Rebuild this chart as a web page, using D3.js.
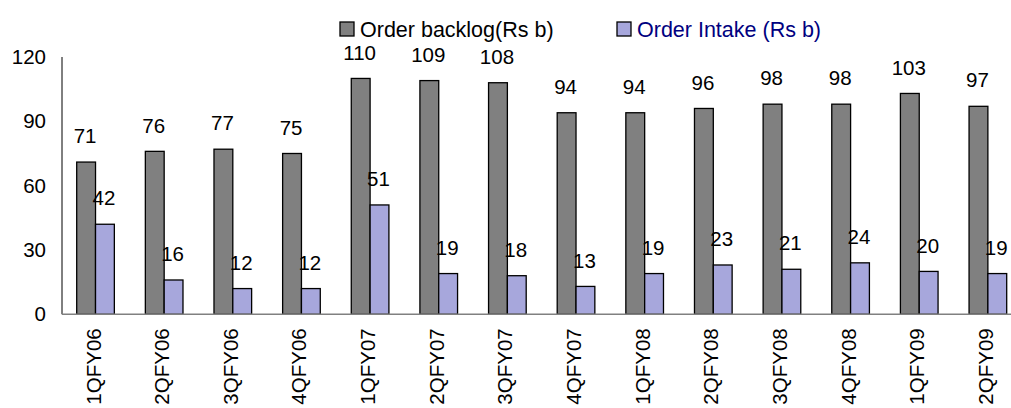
<!DOCTYPE html>
<html>
<head>
<meta charset="utf-8">
<script src="https://cdn.jsdelivr.net/npm/d3@7"></script>
<style>
  html, body { margin: 0; padding: 0; background: #fff; }
  svg { display: block; font-family: "Liberation Sans", Arial, sans-serif; }
</style>
</head>
<body>
<svg id="chart" width="1011" height="408"></svg>
<script>
// Quarterly order backlog and order intake, Rs billion
const quarters = ["1QFY06", "2QFY06", "3QFY06", "4QFY06", "1QFY07", "2QFY07", "3QFY07",
                  "4QFY07", "1QFY08", "2QFY08", "3QFY08", "4QFY08", "1QFY09", "2QFY09"];
const orderBacklog = [71, 76, 77, 75, 110, 109, 108, 94, 94, 96, 98, 98, 103, 97];
const orderIntake  = [42, 16, 12, 12, 51, 19, 18, 13, 19, 23, 21, 24, 20, 19];
const seriesNames  = ["Order backlog(Rs b)", "Order Intake (Rs b)"];
const yTicks       = [0, 30, 60, 90, 120];

const colors = { backlog: "#808080", intake: "#a7a7dc" };
const fontSize = 20.5;
const legendFontSize = 21.5;

const svg = d3.select("#chart");

const plot = { left: 62, right: 1023, top: 57, bottom: 314.3 };

const x0 = d3.scaleBand().domain(quarters).range([plot.left, plot.right]).padding(0);
const x1 = d3.scaleBand().domain(["backlog", "intake"])
  .range([14.7, x0.bandwidth() - 16.3]).padding(0);
const y = d3.scaleLinear().domain([0, 120]).range([plot.bottom, plot.top]);

// Y axis: line plus tick labels only
svg.append("line")
  .attr("x1", plot.left).attr("x2", plot.left)
  .attr("y1", y(120)).attr("y2", y(0))
  .attr("stroke", "#000").attr("stroke-width", 1);

const yAxis = d3.axisLeft(y).tickValues(yTicks).tickSize(0).tickPadding(16);
const yG = svg.append("g").attr("transform", `translate(${plot.left},0)`).call(yAxis);
yG.select(".domain").remove();
yG.selectAll("text").attr("font-size", fontSize).attr("fill", "#000")
  .attr("font-family", "Liberation Sans, Arial, sans-serif");

// Bars
const rows = quarters.map((q, i) => ({ q, backlog: orderBacklog[i], intake: orderIntake[i] }));

const groups = svg.append("g").selectAll("g").data(rows).join("g")
  .attr("transform", d => `translate(${x0(d.q)},0)`);

groups.selectAll("rect")
  .data(d => ["backlog", "intake"].map(k => ({ key: k, value: d[k] })))
  .join("rect")
  .attr("x", d => x1(d.key))
  .attr("width", x1.bandwidth())
  .attr("y", d => y(d.value))
  .attr("height", d => y(0) - y(d.value))
  .attr("fill", d => colors[d.key])
  .attr("stroke", "#000")
  .attr("stroke-width", 1.3);

// X axis baseline
svg.append("line")
  .attr("x1", plot.left).attr("x2", 1011)
  .attr("y1", y(0)).attr("y2", y(0))
  .attr("stroke", "#808080").attr("stroke-width", 1.5);

// Value labels above the bars
groups.selectAll("text.val")
  .data(d => ["backlog", "intake"].map(k => ({ key: k, value: d[k] })))
  .join("text")
  .attr("class", "val")
  .attr("x", d => x1(d.key) + x1.bandwidth() / 2 - 1)
  .attr("y", d => y(d.value) - 26)
  .attr("dy", "0.35em")
  .attr("text-anchor", "middle")
  .attr("font-size", fontSize)
  .attr("fill", "#000")
  .text(d => d.value);

// Rotated category labels
svg.append("g").selectAll("text").data(quarters).join("text")
  .attr("transform", d => `translate(${x0(d) + x0.bandwidth() / 2 - 3},${y(0) + 14}) rotate(-90)`)
  .attr("dy", "0.35em")
  .attr("text-anchor", "end")
  .attr("font-size", fontSize)
  .attr("fill", "#000")
  .text(d => d);

// Legend
const legendItems = [
  { name: seriesNames[0], fill: colors.backlog, text: "#000", x: 340 },
  { name: seriesNames[1], fill: colors.intake, text: "#000080", x: 617 }
];
const lg = svg.append("g").selectAll("g").data(legendItems).join("g")
  .attr("transform", d => `translate(${d.x},22)`);
lg.append("rect")
  .attr("width", 14).attr("height", 14)
  .attr("fill", d => d.fill).attr("stroke", "#000").attr("stroke-width", 1.3);
lg.append("text")
  .attr("x", 20).attr("y", 7).attr("dy", "0.35em")
  .attr("font-size", legendFontSize)
  .attr("fill", d => d.text)
  .text(d => d.name);
</script>
</body>
</html>
